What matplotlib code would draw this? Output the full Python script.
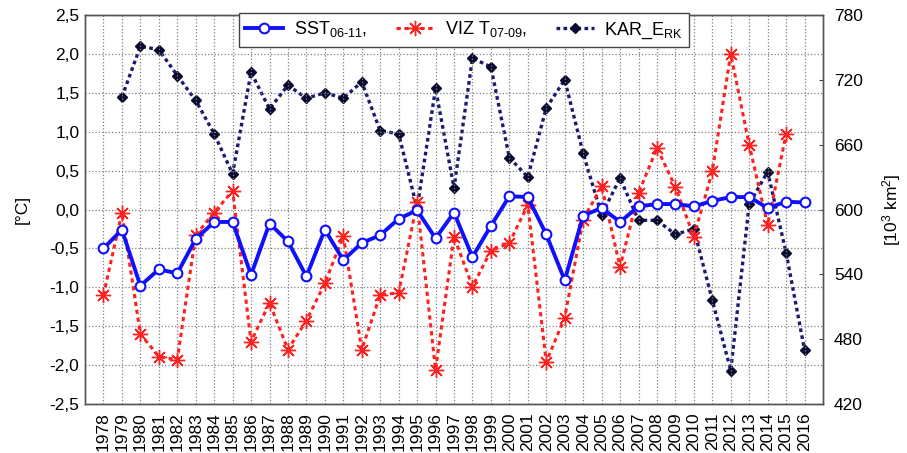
import matplotlib
matplotlib.use("Agg")
import matplotlib.pyplot as plt
import numpy as np

plt.rcParams['font.family'] = ['Liberation Sans', 'DejaVu Sans']
plt.rcParams['mathtext.fontset'] = 'custom'
plt.rcParams['mathtext.rm'] = 'Liberation Sans'
plt.rcParams['mathtext.it'] = 'Liberation Sans'
plt.rcParams['mathtext.default'] = 'regular'

years = list(range(1978, 2017))

sst = [-0.50, -0.26, -0.98, -0.77, -0.82, -0.38, -0.16, -0.16, -0.84, -0.18,
       -0.41, -0.86, -0.26, -0.65, -0.43, -0.33, -0.12, -0.01, -0.37, -0.04,
       -0.61, -0.21, 0.17, 0.16, -0.32, -0.91, -0.08, 0.02, -0.16, 0.04,
       0.07, 0.07, 0.04, 0.11, 0.16, 0.16, 0.02, 0.10, 0.09]

viz_years = list(range(1978, 2016))
viz = [-1.10, -0.04, -1.60, -1.89, -1.93, -0.33, -0.04, 0.24, -1.70, -1.20,
       -1.80, -1.43, -0.95, -0.34, -1.80, -1.10, -1.07, 0.09, -2.06, -0.35,
       -0.99, -0.53, -0.43, 0.06, -1.96, -1.39, -0.13, 0.30, -0.74, 0.21,
       0.79, 0.29, -0.35, 0.49, 2.00, 0.83, -0.20, 0.97]

kar_years = list(range(1979, 2017))
kar = [704, 751, 748, 724, 701, 670, 633, 727, 693, 715,
       703, 708, 703, 718, 673, 670, 601, 712, 620, 740,
       732, 648, 630, 694, 720, 652, 595, 629, 590, 590,
       577, 582, 516, 451, 605, 635, 560, 470]

left_ticks = [-2.5, -2.0, -1.5, -1.0, -0.5, 0.0, 0.5, 1.0, 1.5, 2.0, 2.5]
right_ticks = [420, 480, 540, 600, 660, 720, 780]

fig = plt.figure(figsize=(9.07, 4.53), dpi=100)
ax = fig.add_axes([85/907, 1-404/453, (823-85)/907, (404-15)/453])
ax2 = ax.twinx()

l1, = ax.plot(years, sst, color='#1010ff', lw=2.8, marker='o', ms=7,
              mfc='white', mec='#1010ff', mew=1.5, zorder=5)
l2, = ax.plot(viz_years, viz, color='#ff2020', lw=2.2, ls=(0, (1.4, 1.2)),
              marker=(8, 2, 0), ms=11, mec='#ff2020', mew=1.0, zorder=4)
l3, = ax2.plot(kar_years, kar, color='#1a1a70', lw=2.4, ls=(0, (1.1, 1.0)),
               marker='D', ms=5, mfc='#0a0a30', mec='#0a0a30', zorder=3)

ax.set_zorder(ax2.get_zorder() + 1)
ax.patch.set_visible(False)

ax.set_xlim(1977, 2017)
ax.set_ylim(-2.5, 2.5)
ax2.set_ylim(420, 780)

ax.set_xticks(years)
ax.set_xticklabels([str(y) for y in years], rotation=90, fontsize=12.5)
ax.set_yticks(left_ticks)
ax.set_yticklabels([f"{v:.1f}".replace('.', ',') for v in left_ticks], fontsize=12.5)
ax2.set_yticks(right_ticks)
ax2.set_yticklabels([str(v) for v in right_ticks], fontsize=12.5)

ax.tick_params(axis='both', length=0, pad=4)
ax.tick_params(axis='x', pad=6)
ax2.tick_params(axis='y', direction='in', length=3, color='#444444', pad=8)

ax.grid(True, color='#808080', ls=':', lw=0.9)

for a in (ax, ax2):
    for s in a.spines.values():
        s.set_color('#555555')
        s.set_linewidth(1.0)

ax.set_ylabel('[°C]', fontsize=12.5, labelpad=14)
ax2.set_ylabel('[10$^3$ km$^2$]', fontsize=12.5, labelpad=12)

leg = fig.legend([l1, l2, l3],
                 [r'SST$_{06\text{-}11}$,', r'VIZ T$_{07\text{-}09}$,', r'KAR_E$_{RK}$'],
                 loc='upper center', bbox_to_anchor=(464/907, 1-13/453), ncol=3,
                 fontsize=13, frameon=True, fancybox=False, edgecolor='#444444',
                 framealpha=1, handlelength=2.1, columnspacing=1.6, handletextpad=0.6,
                 borderpad=0.35, borderaxespad=0)
leg.get_frame().set_linewidth(1.0)
leg.set_zorder(20)

fig.savefig('out.png', dpi=100)
